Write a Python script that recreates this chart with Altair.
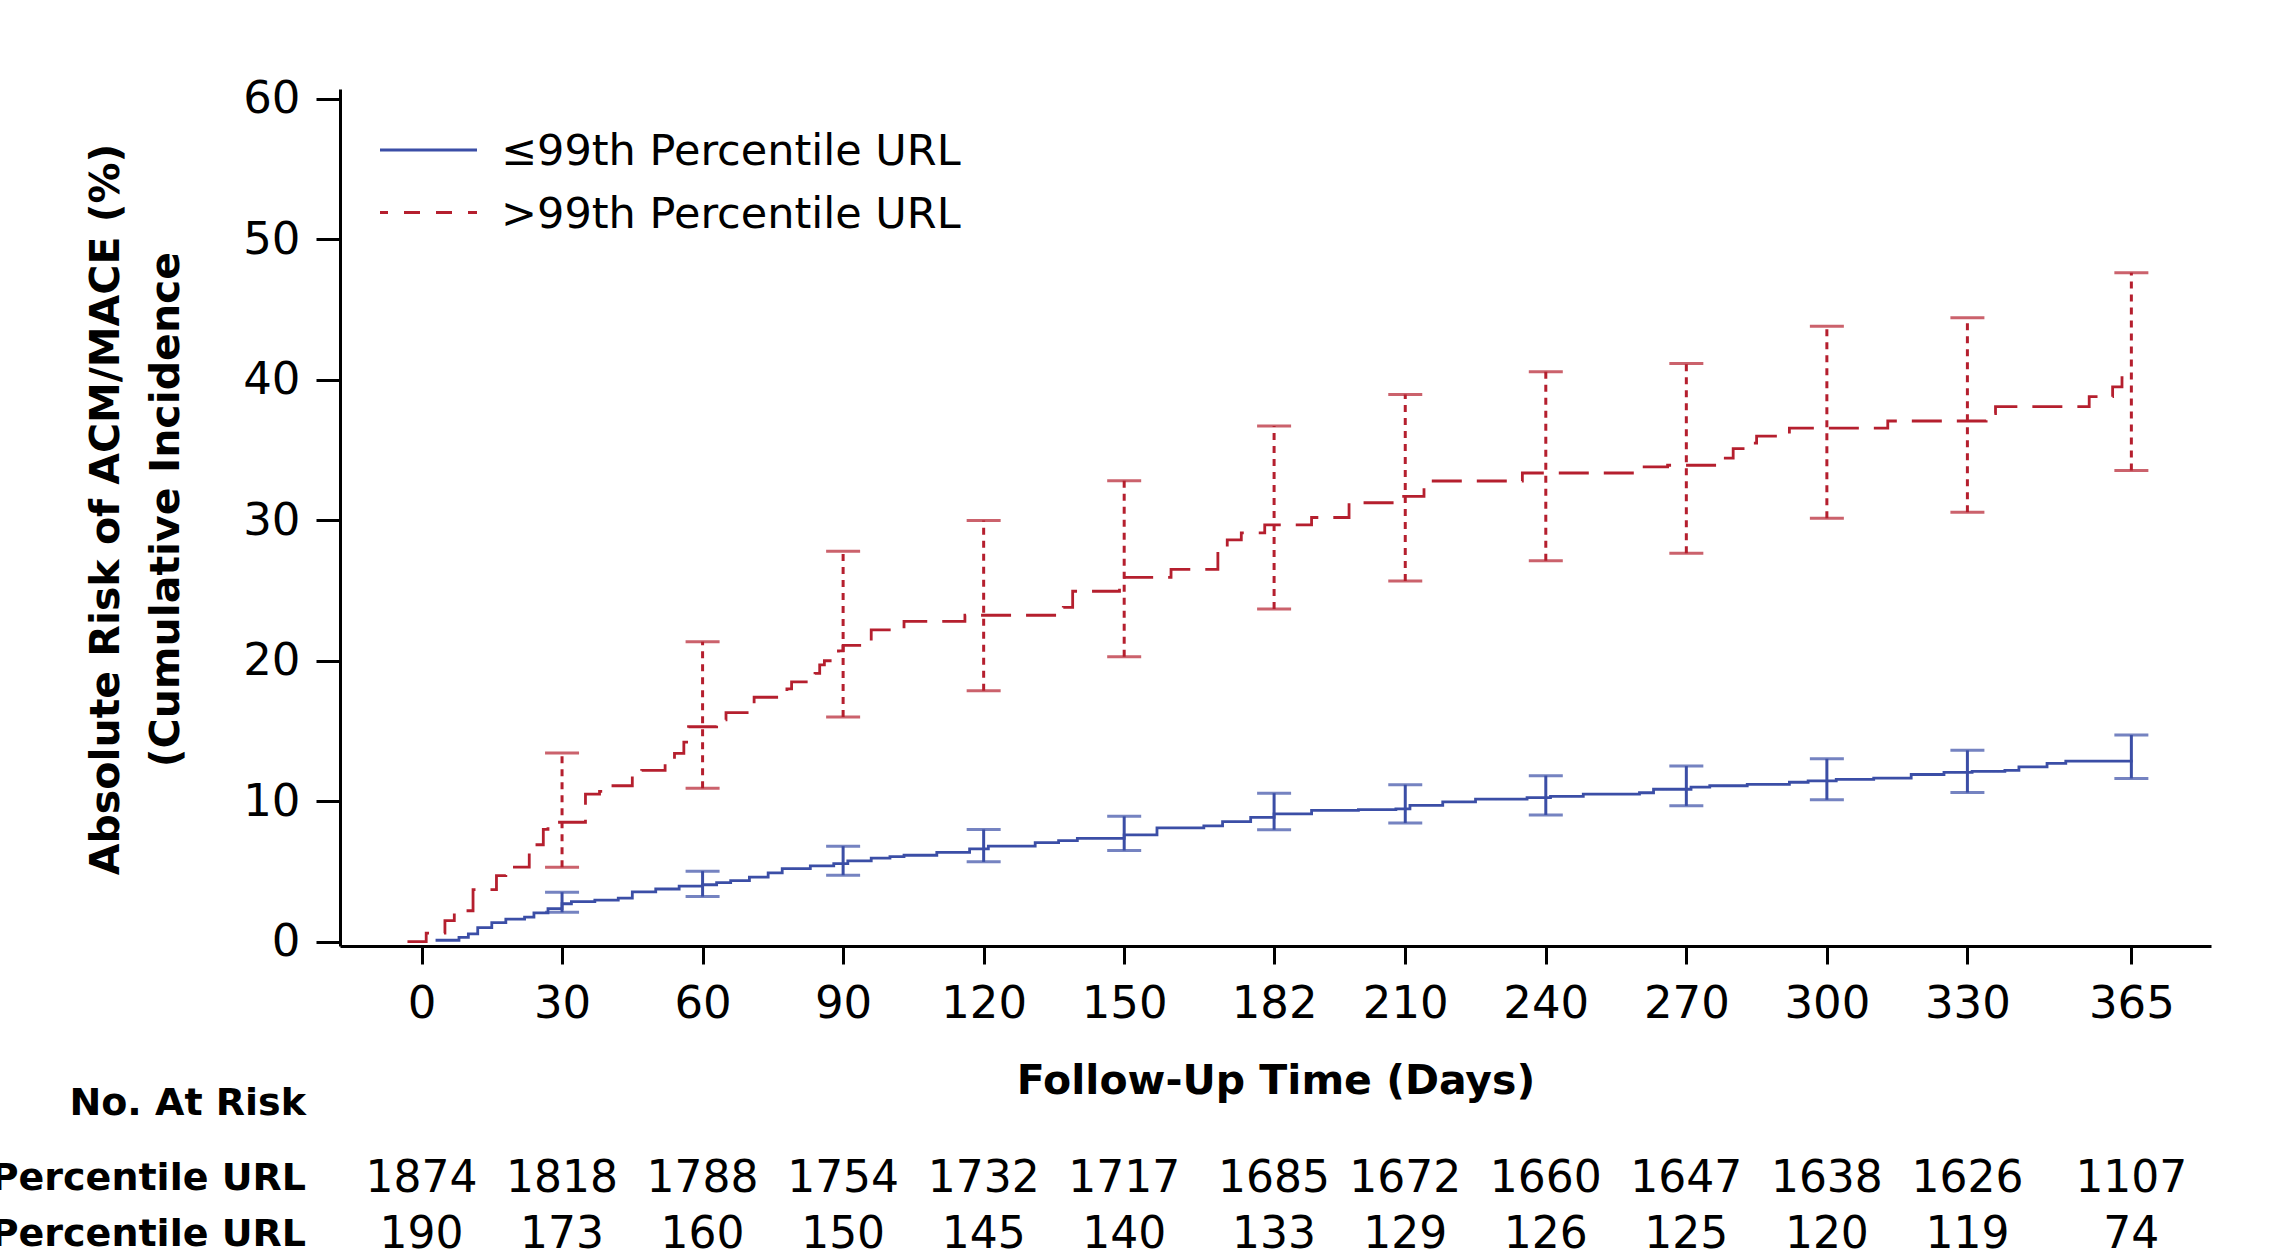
import altair as alt
import pandas as pd

FONT = "DejaVu Sans"
BLUE = "#3b4ea6"
RED = "#b51f2e"

group_names = ["≤99th Percentile URL", ">99th Percentile URL"]

# Kaplan-Meier style cumulative incidence (step-after)
blue_days = [3, 8, 10, 12, 15, 18, 22, 24, 27, 30, 32, 37, 42, 45, 50, 55, 60, 63, 66, 70,
             74, 77, 83, 88, 91, 96, 100, 103, 110, 117, 121, 131, 136, 140, 150, 157, 167,
             171, 177, 182, 190, 200, 208, 211, 218, 225, 236, 241, 248, 260, 263, 271, 275,
             283, 292, 296, 302, 310, 318, 325, 331, 338, 341, 347, 351, 365]
blue_vals = [0.1, 0.3, 0.55, 1.0, 1.35, 1.6, 1.75, 2.05, 2.35, 2.7, 2.85, 2.95, 3.1, 3.55,
             3.75, 3.95, 4.05, 4.2, 4.35, 4.6, 4.9, 5.2, 5.4, 5.55, 5.75, 5.95, 6.05, 6.15,
             6.35, 6.6, 6.8, 7.05, 7.2, 7.35, 7.6, 8.1, 8.25, 8.55, 8.85, 9.1, 9.35, 9.4, 9.45,
             9.7, 9.95, 10.15, 10.25, 10.35, 10.5, 10.6, 10.85, 11.0, 11.1, 11.2, 11.35, 11.45,
             11.55, 11.65, 11.9, 12.05, 12.12, 12.2, 12.45, 12.7, 12.85, 12.95]

red_days = [-3, 1, 5, 7, 11, 16, 18, 23, 26, 27, 35, 38, 40, 45, 47, 52, 54, 56, 57, 63, 65,
            70, 71, 78, 79, 84, 85, 86, 89, 90, 96, 103, 116, 137, 139, 149, 160, 170, 172,
            175, 180, 190, 198, 208, 214, 235, 260, 266, 277, 280, 284, 285, 292, 313, 334,
            336, 356, 361, 363, 365]
red_vals = [0.0, 0.6, 1.5, 2.2, 3.7, 4.7, 5.3, 6.9, 8.0, 8.5, 10.5, 10.7, 11.1, 11.8, 12.2,
            12.8, 13.4, 14.2, 15.3, 15.8, 16.3, 16.9, 17.4, 18.0, 18.5, 19.1, 19.7, 20.0, 20.7,
            21.1, 22.2, 22.8, 23.24, 23.8, 24.95, 25.94, 26.5, 27.8, 28.6, 29.1, 29.67, 30.2,
            31.25, 31.7, 32.8, 33.37, 33.8, 33.92, 34.43, 35.1, 35.5, 36.0, 36.57, 37.07, 37.6,
            38.1, 38.8, 39.5, 40.16, 40.16]

# 95% confidence intervals
ci_days = [30, 60, 90, 120, 150, 182, 210, 240, 270, 300, 330, 365]
blue_lo = [2.09, 3.21, 4.73, 5.68, 6.49, 7.97, 8.45, 9.02, 9.67, 10.1, 10.62, 11.62]
blue_hi = [3.52, 5.02, 6.8, 7.99, 8.92, 10.57, 11.17, 11.82, 12.5, 13.02, 13.62, 14.71]
red_lo = [5.3, 10.93, 16.0, 17.87, 20.29, 23.69, 25.67, 27.12, 27.65, 30.15, 30.58, 33.54]
red_hi = [13.43, 21.36, 27.8, 29.99, 32.82, 36.72, 38.95, 40.57, 41.16, 43.82, 44.42, 47.63]

# axis ticks and number at risk
tick_days = [0, 30, 60, 90, 120, 150, 182, 210, 240, 270, 300, 330, 365]
y_ticks = [0, 10, 20, 30, 40, 50, 60]
risk_low = [1874, 1818, 1788, 1754, 1732, 1717, 1685, 1672, 1660, 1647, 1638, 1626, 1107]
risk_high = [190, 173, 160, 150, 145, 140, 133, 129, 126, 125, 120, 119, 74]
risk_title = ["No. At Risk"]

# ---------------------------------------------------------------- tables
curves = pd.concat([
    pd.DataFrame({"day": blue_days, "risk": blue_vals, "group": group_names[0]}),
    pd.DataFrame({"day": red_days, "risk": red_vals, "group": group_names[1]}),
], ignore_index=True)
ci_blue = pd.DataFrame({"day": ci_days, "lo": blue_lo, "hi": blue_hi})
ci_red = pd.DataFrame({"day": ci_days, "lo": red_lo, "hi": red_hi})
risk_a = pd.DataFrame({"day": tick_days, "n": risk_low})
risk_b = pd.DataFrame({"day": tick_days, "n": risk_high})

x_scale = alt.Scale(domain=[-17.4, 382], nice=False, zero=False)
y_scale = alt.Scale(domain=[-0.31, 60.71], nice=False, zero=False)

x_axis = alt.Axis(
    values=tick_days, title="Follow-Up Time (Days)", grid=False,
    labelFont=FONT, labelFontSize=45, labelColor="black", labelPadding=17,
    labelFlush=False, labelOverlap=False,
    tickSize=18, tickWidth=3, tickColor="black",
    domainWidth=3, domainColor="black",
    titleFont=FONT, titleFontSize=41, titleFontWeight="bold", titleColor="black",
    titleBaseline="alphabetic", titleY=147,
)
y_axis = alt.Axis(
    values=y_ticks, title=["Absolute Risk of ACM/MACE (%)", "(Cumulative Incidence"],
    grid=False,
    labelFont=FONT, labelFontSize=45, labelColor="black", labelPadding=16,
    tickSize=24, tickWidth=3, tickColor="black",
    domainWidth=3, domainColor="black",
    titleFont=FONT, titleFontSize=41, titleFontWeight="bold", titleColor="black",
    titleAngle=270, titleBaseline="alphabetic", titleAlign="center",
    titleX=-222, titleY=420, titleLineHeight=60, titleLimit=2000,
)

def X(field):
    return alt.X(field, scale=x_scale, axis=x_axis)

def Y(field):
    return alt.Y(field, scale=y_scale, axis=y_axis)

lines = alt.Chart(curves).mark_line(interpolate="step-after", strokeWidth=2.8).encode(
    x=X("day:Q"),
    y=Y("risk:Q"),
    color=alt.Color("group:N", scale=alt.Scale(domain=group_names, range=[BLUE, RED]),
                    legend=None),
    strokeDash=alt.StrokeDash("group:N",
                              scale=alt.Scale(domain=group_names, range=[[1, 0], [30, 15]]),
                              legend=None),
)

bar_blue = alt.Chart(ci_blue).mark_rule(color=BLUE, strokeWidth=3).encode(
    x=X("day:Q"), y=Y("lo:Q"), y2="hi:Q")
bar_red = alt.Chart(ci_red).mark_rule(color=RED, strokeWidth=3, strokeDash=[7, 6]).encode(
    x=X("day:Q"), y=Y("lo:Q"), y2="hi:Q")
cap_blue = alt.Chart(ci_blue).transform_fold(["lo", "hi"], as_=["end", "v"]).mark_tick(
    orient="horizontal", size=34, thickness=3, color=BLUE).encode(x=X("day:Q"), y=Y("v:Q"))
cap_red = alt.Chart(ci_red).transform_fold(["lo", "hi"], as_=["end", "v"]).mark_tick(
    orient="horizontal", size=34, thickness=3, color=RED).encode(x=X("day:Q"), y=Y("v:Q"))

# legend (symbol line + label per group)
leg_rows = [61, 123.5]
leg_layers = []
for name, col, dash, yy in zip(group_names, [BLUE, RED], [[1, 0], [16, 16]], leg_rows):
    df = pd.DataFrame({"t": [name]})
    leg_layers.append(
        alt.Chart(df).mark_rule(color=col, strokeWidth=3, strokeDash=dash,
                                strokeDashOffset=8).encode(
            x=alt.value(40), x2=alt.value(137), y=alt.value(yy)))
    leg_layers.append(
        alt.Chart(df).mark_text(font=FONT, fontSize=43, color="black", align="left",
                                baseline="middle").encode(
            x=alt.value(161), y=alt.value(yy + 2), text="t:N"))

num_style = dict(font=FONT, fontSize=44, color="black", align="center", baseline="middle")
nums_a = alt.Chart(risk_a).mark_text(**num_style).encode(
    x=X("day:Q"), y=alt.value(1089.5), text=alt.Text("n:Q", format="d"))
nums_b = alt.Chart(risk_b).mark_text(**num_style).encode(
    x=X("day:Q"), y=alt.value(1146), text=alt.Text("n:Q", format="d"))

lab_style = dict(font=FONT, fontSize=38, fontWeight="bold", color="black",
                 align="right", baseline="middle")
risk_head = alt.Chart(pd.DataFrame({"t": risk_title})).mark_text(**lab_style).encode(
    x=alt.value(-34), y=alt.value(1015), text="t:N")
row_a = alt.Chart(pd.DataFrame({"t": [group_names[0]]})).mark_text(**lab_style).encode(
    x=alt.value(-34), y=alt.value(1089.5), text="t:N")
row_b = alt.Chart(pd.DataFrame({"t": [group_names[1]]})).mark_text(**lab_style).encode(
    x=alt.value(-34), y=alt.value(1146), text="t:N")

chart = alt.layer(
    lines, bar_blue, bar_red, cap_blue, cap_red, *leg_layers,
    nums_a, nums_b, risk_head, row_a, row_b
).properties(
    width=1871, height=857,
    autosize=alt.AutoSizeParams(type="none"),
    padding={"left": 340, "top": 89, "right": 62, "bottom": 312},
    background="white",
).configure_view(strokeWidth=0)

chart.save("out.html", embed_options={"renderer": "svg", "actions": False})
